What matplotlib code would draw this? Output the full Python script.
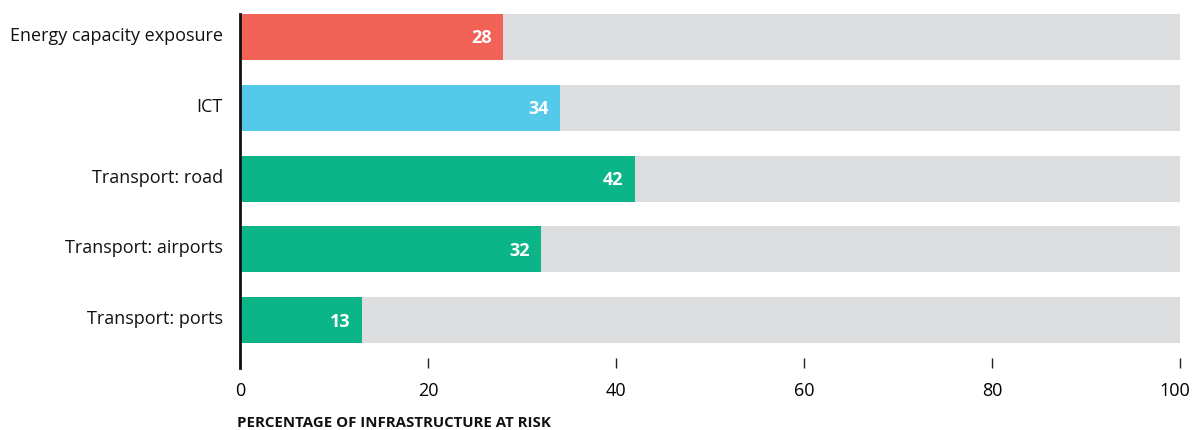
import matplotlib
matplotlib.use("Agg")
import matplotlib.pyplot as plt
from matplotlib.transforms import ScaledTranslation, blended_transform_factory

categories = ["Energy capacity exposure", "ICT", "Transport: road",
              "Transport: airports", "Transport: ports"]
values = [28, 34, 42, 32, 13]
colors = ["#F06356", "#55C9E9", "#0BB587", "#0BB587", "#0BB587"]
total = 100
xticks = [0, 20, 40, 60, 80, 100]
xlabel = "PERCENTAGE OF INFRASTRUCTURE AT RISK"

plt.rcParams["font.family"] = ["Open Sans", "DejaVu Sans"]

fig = plt.figure(figsize=(11.92, 4.30), dpi=100)
ax = fig.add_axes([240 / 1192, 1 - 368 / 430, 940 / 1192, 354 / 430])

pos = list(range(len(categories)))
ax.barh(pos, [total] * len(pos), height=0.65, color="#DCDDDE", zorder=1)
ax.barh(pos, values, height=0.65, color=colors, zorder=2)
for p, v in zip(pos, values):
    ax.text(v - 1.2, p + 0.02, str(v), ha="right", va="center", color="white",
            fontsize=13, fontweight="bold", zorder=3)

# category labels, right-aligned against the left spine
label_tr = blended_transform_factory(ax.transAxes, ax.transData) + \
    ScaledTranslation(-17 / 100, 3 / 100, fig.dpi_scale_trans)
for p, name in zip(pos, categories):
    ax.text(0, p, name, transform=label_tr, ha="right", va="center_baseline",
            fontsize=13, color="#111111")

ax.set_xlim(0, total)
ax.set_ylim(4.676, -0.324)
ax.set_yticks([])
ax.set_xticks(xticks)
ax.set_xticklabels([str(t) for t in xticks], fontsize=13)
ax.tick_params(axis="x", direction="in", length=7, width=1, color="#222222", pad=10)
last = ax.get_xticklabels()[-1]
last.set_transform(last.get_transform() + ScaledTranslation(-5 / 100, 0, fig.dpi_scale_trans))

for s in ["top", "right", "bottom"]:
    ax.spines[s].set_visible(False)
ax.spines["left"].set_linewidth(2)
ax.spines["left"].set_color("#111111")
ax.spines["left"].set_zorder(4)

fig.text(237 / 1192, 1 - 423 / 430, xlabel, fontsize=10.8, fontweight="bold",
         ha="left", va="center", color="#111111")

fig.savefig("out.png", dpi=100)
